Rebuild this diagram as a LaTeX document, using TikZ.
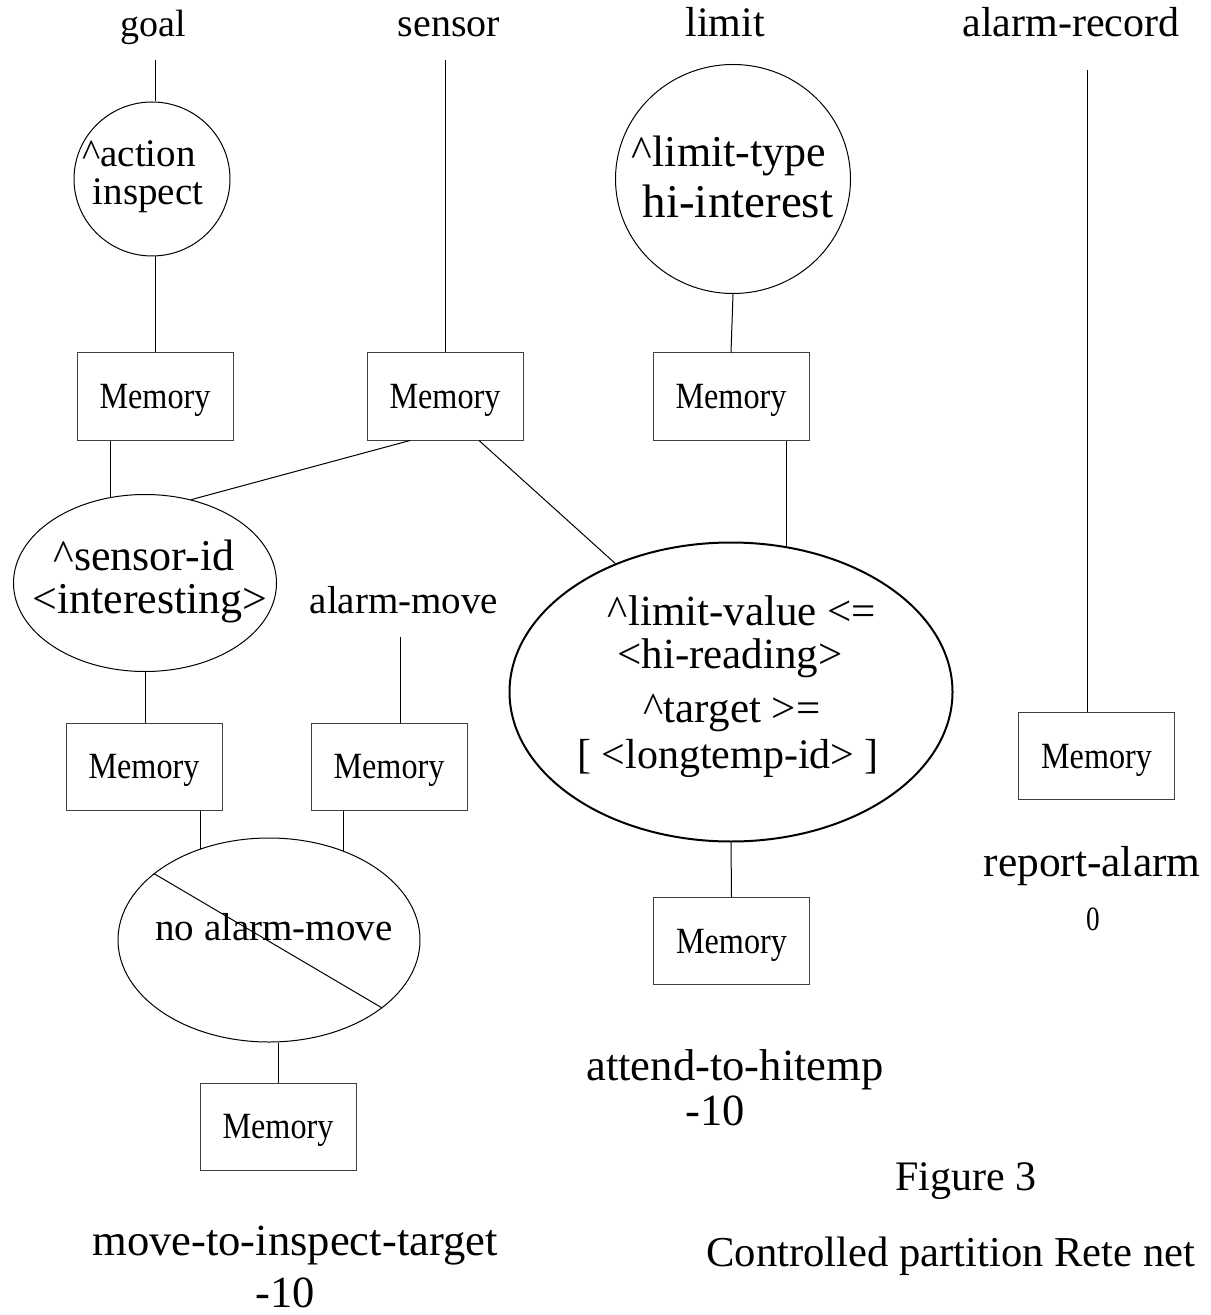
\documentclass[tikz,border=0pt]{standalone}
\usepackage{fontspec}
\setmainfont{Liberation Serif}
\usepackage{graphicx}
\usetikzlibrary{shapes.geometric}
\newcommand{\memtxt}{\scalebox{0.87}[1]{Memory}}
\tikzset{
  lbl/.style={anchor=base, inner sep=0pt, font=\fontsize{#1}{#1}\selectfont},
  lbl/.default=21,
  mem/.style={draw=black!75, minimum width=78pt, minimum height=43.5pt, inner sep=0pt,
    text depth=0pt, font=\fontsize{18.5}{20}\selectfont},
  cond/.style={draw, ellipse, inner sep=0pt},
}
\begin{document}
\begin{tikzpicture}[x=0.5pt, y=-0.5pt, line width=0.5pt]
  \useasboundingbox (0,0) rectangle (1210,1315);
  % classes
  \node[lbl=19] (goal) at (153,37) {goal};
  \node[lbl=20] (sensor) at (449,37) {sensor};
  \node[lbl] (limit) at (725,37) {limit};
  \node[lbl] (alarmrec) at (1071,37) {alarm-record};
  \node[lbl=19.5] (amove) at (404,613) {alarm-move};
  \coordinate (goaltop) at (155,60);
  \coordinate (sensortop) at (445,60);
  \coordinate (alarmtop) at (1087,70);
  \coordinate (amtop) at (400,637);

  % tests
  \node[cond, minimum width=78pt, minimum height=77pt] (act) at (152,179) {};
  \node[lbl=19.5] (act1) at (139,167) {\textasciicircum action};
  \node[lbl=19.5] (act2) at (148,205) {inspect};
  \node[cond, minimum width=117.5pt, minimum height=114.5pt] (lim) at (733,179) {};
  \node[lbl=22] (lim1) at (729,167) {\textasciicircum limit-type};
  \node[lbl=23.5] (lim2) at (738,218) {hi-interest};
  \node[cond, minimum width=131.5pt, minimum height=88.5pt] (sid) at (145,583) {};
  \node[lbl=22] (sid1) at (144,570) {\textasciicircum sensor-id};
  \node[lbl=22] (sid2) at (150,613) {\textless interesting\textgreater};
  \node[cond, line width=1pt, minimum width=221.5pt, minimum height=149.5pt] (lv) at (731,692) {};
  \node[lbl=21.5] (lv1) at (742,625) {\textasciicircum limit-value \textless=};
  \node[lbl=21.5] (lv2) at (730,668) {\textless hi-reading\textgreater};
  \node[lbl=21.5] (lv3) at (732,722) {\textasciicircum target \textgreater=};
  \node[lbl] (lv4) at (728,768) {[ \textless longtemp-id\textgreater\ ]};
  \node[cond, minimum width=151pt, minimum height=102pt] (nam) at (269,940) {};
  \node[lbl=19.5] (nam1) at (274,940) {no alarm-move};
  \draw (nam.150) -- (nam.-31);

  % memories
  \node[mem] (m1) at (155,396.5) {\memtxt};
  \node[mem] (m2) at (445,396.5) {\memtxt};
  \node[mem] (m3) at (731,396.5) {\memtxt};
  \node[mem] (m4) at (144,766.5) {\memtxt};
  \node[mem] (m5) at (389,766.5) {\memtxt};
  \node[mem] (m6) at (731.5,941) {\memtxt};
  \node[mem] (m7) at (1096.5,756) {\memtxt};
  \node[mem] (m8) at (278,1126.5) {\memtxt};

  % productions
  \node[lbl=21.7] (rep) at (1092,876) {report-alarm};
  \node[lbl=17] (repv) at (1093,930) {\scalebox{0.8}[1]{0}};
  \node[lbl=22.3] (att) at (735,1080) {attend-to-hitemp};
  \node[lbl=22.3] (attv) at (715,1125) {-10};
  \node[lbl=22.3] (mit) at (295,1255) {move-to-inspect-target};
  \node[lbl=22.3] (mitv) at (285,1307) {-10};
  \node[lbl] (fig) at (966,1190) {Figure 3};
  \node[lbl=21.3, anchor=base west] (cap) at (706,1266) {Controlled partition Rete net};

  % links
  \draw (goaltop) -- (goaltop |- act.north);
  \draw (m1.north) -- (m1.north |- act.south);
  \draw (sensortop) -- (m2.north);
  \draw (lim.south) -- (m3.north);
  \draw (alarmtop) -- (alarmtop |- m7.north);
  \draw (sid.112) -- (sid.112 |- m1.south);
  \draw ([xshift=-17.5pt]m2.south) -- (sid.61);
  \draw ([xshift=17pt]m2.south) -- (lv.132);
  \draw (lv.69) -- (lv.69 |- m3.south);
  \draw (sid.south) -- (sid.south |- m4.north);
  \draw (amtop) -- (amtop |- m5.north);
  \draw (nam.127) -- (nam.127 |- m4.south);
  \draw (nam.50) -- (nam.50 |- m5.south);
  \draw (m8.north) -- (m8.north |- nam.south);
  \draw (lv.south) -- (m6.north);
\end{tikzpicture}
\end{document}
